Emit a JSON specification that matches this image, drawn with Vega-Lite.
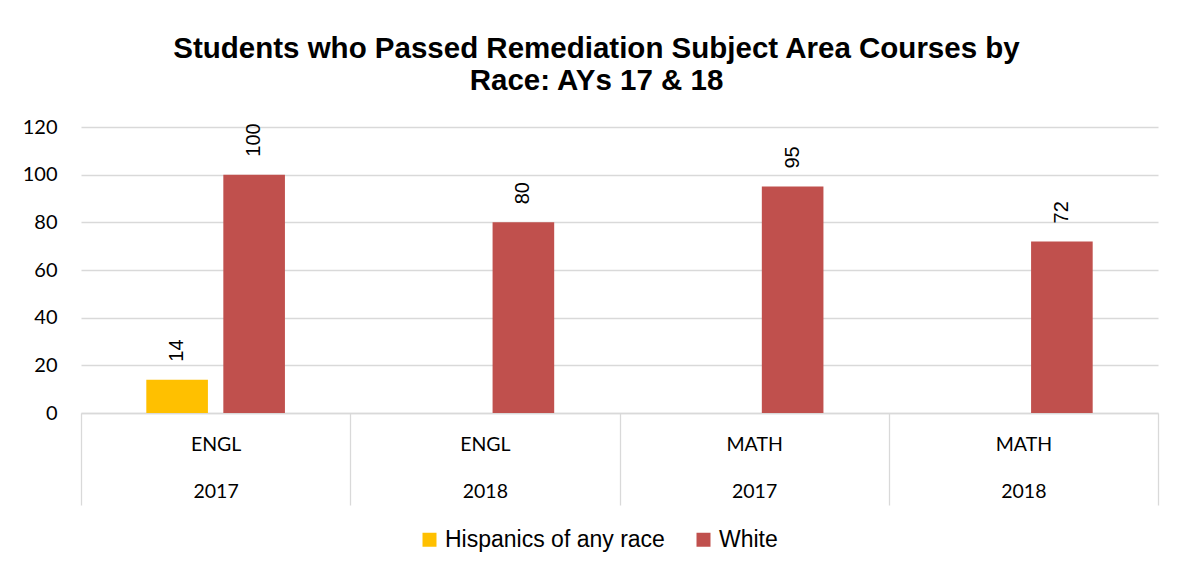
{
  "$schema": "https://vega.github.io/schema/vega-lite/v6.json",
  "width": 1077,
  "height": 286,
  "autosize": {"type": "pad"},
  "padding": {"left": 21, "top": 33, "right": 25, "bottom": 20},
  "background": "white",
  "title": {
    "text": ["Students who Passed Remediation Subject Area Courses by", "Race: AYs 17 & 18"],
    "font": "Liberation Sans",
    "fontSize": 29.5,
    "fontWeight": "bold",
    "color": "#000000",
    "anchor": "middle",
    "lineHeight": 32,
    "offset": 21,
    "dx": -23
  },
  "data": {
    "values": [
      {"cat": "ENGL 2017", "race": "Hispanics of any race", "value": 14},
      {"cat": "ENGL 2017", "race": "White", "value": 100},
      {"cat": "ENGL 2018", "race": "White", "value": 80},
      {"cat": "MATH 2017", "race": "White", "value": 95},
      {"cat": "MATH 2018", "race": "White", "value": 72}
    ]
  },
  "encoding": {
    "x": {
      "field": "cat",
      "type": "nominal",
      "sort": ["ENGL 2017", "ENGL 2018", "MATH 2017", "MATH 2018"],
      "scale": {"paddingInner": 0, "paddingOuter": 0},
      "axis": {
        "title": null,
        "grid": false,
        "labelAngle": 0,
        "labelExpr": "split(datum.label, ' ')",
        "labelFont": "Lato",
        "labelFontSize": 19.5,
        "labelColor": "#000000",
        "labelLineHeight": 47,
        "labelPadding": -70,
        "domainColor": "#D9D9D9",
        "domainWidth": 1.3,
        "tickColor": "#D9D9D9",
        "tickWidth": 1.3,
        "tickSize": 92,
        "tickBand": "extent"
      }
    },
    "xOffset": {
      "field": "race",
      "type": "nominal",
      "sort": ["Hispanics of any race", "White"],
      "scale": {"domain": ["Hispanics of any race", "White"], "paddingInner": 0.2, "paddingOuter": 0.848}
    },
    "y": {
      "field": "value",
      "type": "quantitative",
      "scale": {"domain": [0, 120]},
      "axis": {
        "title": null,
        "values": [0, 20, 40, 60, 80, 100, 120],
        "domain": false,
        "ticks": false,
        "gridColor": "#D9D9D9",
        "gridWidth": 1.3,
        "labelFont": "Lato",
        "labelFontSize": 20,
        "labelColor": "#000000",
        "labelPadding": 24,
        "minExtent": 60,
        "maxExtent": 60
      }
    }
  },
  "layer": [
    {
      "mark": {"type": "bar"},
      "encoding": {
        "color": {
          "field": "race",
          "type": "nominal",
          "scale": {"domain": ["Hispanics of any race", "White"], "range": ["#FFC000", "#C0504D"]},
          "legend": {
            "orient": "none",
            "legendX": 337,
            "legendY": 401,
            "direction": "horizontal",
            "title": null,
            "symbolType": "square",
            "symbolSize": 196,
            "symbolStrokeWidth": 0,
            "labelFont": "Liberation Sans",
            "labelFontSize": 23,
            "labelOffset": 4,
            "labelColor": "#000000",
            "labelLimit": 400,
            "columnPadding": 27
          }
        }
      }
    },
    {
      "mark": {"type": "text", "angle": 270, "align": "left", "baseline": "middle", "dx": 18, "font": "Liberation Sans", "fontSize": 20, "color": "#000000"},
      "encoding": {"text": {"field": "value", "type": "quantitative"}}
    }
  ],
  "config": {"view": {"stroke": null}}
}
